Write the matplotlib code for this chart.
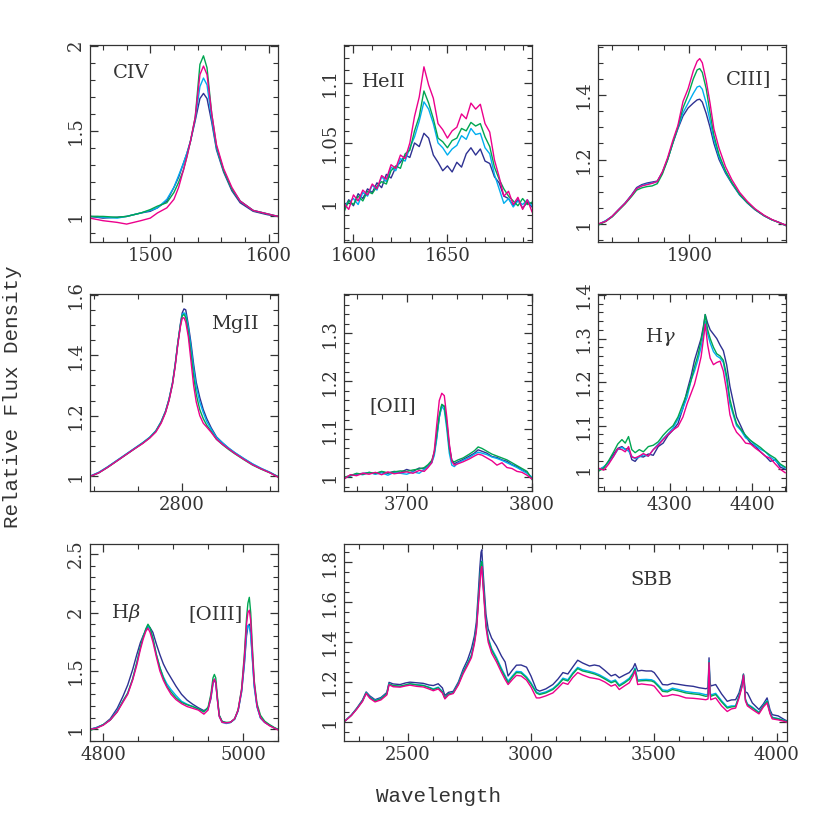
import matplotlib
matplotlib.use("Agg")
import matplotlib.pyplot as plt
from matplotlib.ticker import MultipleLocator, FuncFormatter

plt.rcParams['font.family'] = 'DejaVu Serif'
plt.rcParams['mathtext.fontset'] = 'dejavuserif'

# series colours (order: navy, cyan, green, magenta)
colors = ['#2e3192', '#00aeef', '#00a651', '#ec008c']
ink = '#333333'

# ---------------- CIV ----------------
civ_wave = [1449, 1460, 1472, 1480, 1492, 1500, 1506, 1514, 1520, 1524, 1528, 1531, 1534,
            1538, 1542, 1545, 1548, 1552, 1556, 1562, 1569, 1576, 1587, 1599, 1608]
civ_navy = [1.00, 0.99, 0.995, 1.00, 1.02, 1.03, 1.05, 1.09, 1.17, 1.23, 1.31, 1.37, 1.44,
            1.56, 1.69, 1.72, 1.69, 1.55, 1.39, 1.26, 1.15, 1.08, 1.03, 1.01, 1.00]
civ_cyan = [1.00, 0.995, 0.99, 1.00, 1.02, 1.035, 1.05, 1.10, 1.17, 1.24, 1.31, 1.37, 1.44,
            1.57, 1.76, 1.81, 1.77, 1.57, 1.40, 1.27, 1.16, 1.09, 1.035, 1.015, 1.00]
civ_green = [1.00, 1.00, 0.995, 1.00, 1.02, 1.04, 1.06, 1.08, 1.14, 1.20, 1.27, 1.35, 1.44,
             1.58, 1.89, 1.94, 1.87, 1.60, 1.41, 1.27, 1.16, 1.09, 1.035, 1.015, 1.00]
civ_mag = [0.99, 0.975, 0.965, 0.955, 0.975, 0.99, 1.02, 1.05, 1.10, 1.17, 1.27, 1.35, 1.44,
           1.58, 1.83, 1.88, 1.83, 1.60, 1.42, 1.28, 1.17, 1.09, 1.035, 1.015, 1.00]

# ---------------- HeII ----------------
heii_wave = [1595, 1597.5, 1600, 1602.5, 1605, 1607.5, 1610, 1612.5, 1615, 1617.5, 1620, 1622.5,
             1625, 1627.5, 1630, 1632.5, 1635, 1637.5, 1640, 1642.5, 1645, 1647.5, 1650, 1652.5,
             1655, 1657.5, 1660, 1662.5, 1665, 1667.5, 1670, 1672.5, 1675, 1677.5, 1680, 1682.5,
             1685, 1687.5, 1690, 1692.5, 1695]
heii_navy = [0.995, 1.003, 0.998, 1.008, 1.004, 1.012, 1.009, 1.017, 1.013, 1.024, 1.021, 1.030,
             1.034, 1.040, 1.038, 1.050, 1.047, 1.058, 1.054, 1.040, 1.034, 1.027, 1.031, 1.026,
             1.034, 1.030, 1.041, 1.046, 1.040, 1.045, 1.035, 1.033, 1.022, 1.017, 1.006, 1.004,
             0.998, 1.003, 0.996, 1.001, 0.997]
heii_cyan = [0.998, 1.001, 1.004, 0.999, 1.009, 1.006, 1.015, 1.011, 1.022, 1.018, 1.030, 1.027,
             1.037, 1.035, 1.046, 1.055, 1.068, 1.084, 1.078, 1.066, 1.050, 1.046, 1.040, 1.045,
             1.048, 1.056, 1.053, 1.062, 1.057, 1.058, 1.046, 1.041, 1.024, 1.012, 1.000, 1.004,
             0.997, 1.002, 0.999, 1.003, 0.998]
heii_green = [0.993, 1.002, 0.999, 1.006, 1.002, 1.010, 1.008, 1.014, 1.018, 1.016, 1.027, 1.031,
              1.029, 1.041, 1.044, 1.060, 1.072, 1.093, 1.083, 1.070, 1.054, 1.051, 1.046, 1.052,
              1.054, 1.062, 1.060, 1.067, 1.064, 1.066, 1.055, 1.047, 1.030, 1.020, 1.012, 1.006,
              1.002, 0.998, 1.004, 0.999, 1.001]
heii_mag = [1.000, 0.995, 1.007, 1.002, 1.011, 1.007, 1.016, 1.012, 1.023, 1.020, 1.032, 1.029,
            1.040, 1.037, 1.050, 1.072, 1.088, 1.113, 1.098, 1.087, 1.066, 1.061, 1.054, 1.060,
            1.063, 1.074, 1.070, 1.083, 1.078, 1.082, 1.066, 1.059, 1.036, 1.022, 1.006, 1.010,
            0.999, 1.005, 0.995, 1.003, 0.993]

# ---------------- CIII] ----------------
ciii_wave = [1829, 1835, 1840, 1845, 1850, 1855, 1859, 1863, 1867, 1871, 1875, 1879, 1883, 1887,
             1891, 1895, 1899, 1903, 1906, 1908, 1910, 1913, 1916, 1919, 1923, 1928, 1933, 1939,
             1945, 1951, 1958, 1964, 1970, 1975]
ciii_navy = [0.998, 1.010, 1.024, 1.045, 1.065, 1.090, 1.113, 1.122, 1.127, 1.130, 1.133, 1.160,
             1.200, 1.250, 1.295, 1.335, 1.360, 1.375, 1.385, 1.387, 1.378, 1.343, 1.300, 1.250,
             1.200, 1.158, 1.125, 1.090, 1.065, 1.044, 1.025, 1.013, 1.004, 0.995]
ciii_cyan = [0.998, 1.010, 1.023, 1.044, 1.064, 1.088, 1.110, 1.119, 1.124, 1.127, 1.131, 1.160,
             1.200, 1.250, 1.298, 1.345, 1.375, 1.405, 1.425, 1.428, 1.418, 1.375, 1.320, 1.262,
             1.208, 1.162, 1.127, 1.091, 1.066, 1.045, 1.026, 1.013, 1.004, 0.995]
ciii_green = [0.996, 1.008, 1.022, 1.042, 1.062, 1.085, 1.105, 1.112, 1.116, 1.118, 1.125, 1.155,
              1.198, 1.250, 1.300, 1.360, 1.400, 1.450, 1.478, 1.482, 1.470, 1.420, 1.345, 1.275,
              1.215, 1.165, 1.128, 1.092, 1.066, 1.045, 1.026, 1.013, 1.004, 0.995]
ciii_mag = [1.000, 1.008, 1.024, 1.044, 1.064, 1.088, 1.110, 1.118, 1.122, 1.126, 1.132, 1.162,
            1.205, 1.258, 1.305, 1.380, 1.420, 1.475, 1.505, 1.513, 1.500, 1.445, 1.375, 1.295,
            1.235, 1.178, 1.137, 1.098, 1.070, 1.047, 1.027, 1.014, 1.004, 0.996]

# ---------------- MgII ----------------
mgii_wave = [2695, 2705, 2715, 2725, 2735, 2745, 2755, 2763, 2770, 2776, 2781, 2785, 2789, 2792,
             2795, 2798, 2800, 2802, 2804, 2807, 2810, 2813, 2816, 2820, 2824, 2828, 2833, 2839,
             2846, 2853, 2860, 2870, 2880, 2890, 2900, 2909]
mgii_navy = [1.000, 1.012, 1.030, 1.050, 1.070, 1.090, 1.110, 1.128, 1.150, 1.180, 1.215, 1.255,
             1.310, 1.370, 1.440, 1.505, 1.540, 1.553, 1.550, 1.500, 1.440, 1.370, 1.310, 1.260,
             1.220, 1.190, 1.160, 1.130, 1.110, 1.092, 1.077, 1.058, 1.040, 1.025, 1.012, 0.998]
mgii_cyan = [1.000, 1.013, 1.031, 1.051, 1.071, 1.091, 1.111, 1.129, 1.150, 1.180, 1.214, 1.254,
             1.308, 1.368, 1.440, 1.500, 1.535, 1.540, 1.535, 1.490, 1.425, 1.355, 1.295, 1.245,
             1.210, 1.180, 1.155, 1.128, 1.110, 1.093, 1.078, 1.059, 1.041, 1.026, 1.013, 0.999]
mgii_green = [0.998, 1.011, 1.029, 1.049, 1.069, 1.089, 1.109, 1.127, 1.148, 1.178, 1.212, 1.252,
              1.306, 1.366, 1.440, 1.500, 1.530, 1.535, 1.525, 1.475, 1.405, 1.330, 1.270, 1.220,
              1.190, 1.168, 1.148, 1.122, 1.104, 1.088, 1.074, 1.055, 1.037, 1.023, 1.011, 0.998]
mgii_mag = [0.999, 1.011, 1.029, 1.049, 1.069, 1.089, 1.108, 1.126, 1.146, 1.175, 1.210, 1.250,
            1.304, 1.363, 1.435, 1.495, 1.522, 1.524, 1.510, 1.460, 1.380, 1.300, 1.245, 1.200,
            1.175, 1.162, 1.145, 1.122, 1.105, 1.090, 1.075, 1.056, 1.038, 1.024, 1.011, 0.997]

# ---------------- [OII] ----------------
oii_wave = [3650, 3655, 3660, 3665, 3670, 3675, 3680, 3685, 3690, 3695, 3700, 3705, 3710, 3714,
            3717, 3720, 3722, 3724, 3726, 3728, 3730, 3732, 3734, 3736, 3738, 3741, 3745, 3750,
            3754, 3757, 3760, 3764, 3768, 3772, 3776, 3780, 3784, 3788, 3792, 3796, 3800]
oii_navy = [0.997, 1.004, 1.006, 1.008, 1.009, 1.007, 1.011, 1.008, 1.012, 1.010, 1.016, 1.012,
            1.019, 1.017, 1.024, 1.032, 1.050, 1.085, 1.125, 1.150, 1.148, 1.115, 1.065, 1.035,
            1.028, 1.032, 1.037, 1.044, 1.050, 1.057, 1.054, 1.050, 1.043, 1.041, 1.036, 1.033,
            1.026, 1.022, 1.015, 1.010, 0.998]
oii_cyan = [0.999, 1.002, 1.007, 1.005, 1.010, 1.006, 1.009, 1.004, 1.010, 1.008, 1.006, 1.011,
            1.008, 1.016, 1.022, 1.030, 1.045, 1.080, 1.125, 1.148, 1.140, 1.100, 1.050, 1.025,
            1.022, 1.030, 1.035, 1.041, 1.048, 1.052, 1.050, 1.047, 1.042, 1.039, 1.035, 1.030,
            1.025, 1.020, 1.014, 1.008, 1.000]
oii_green = [1.000, 1.003, 1.008, 1.006, 1.010, 1.008, 1.012, 1.009, 1.011, 1.013, 1.012, 1.015,
             1.017, 1.020, 1.026, 1.035, 1.052, 1.090, 1.130, 1.152, 1.148, 1.110, 1.060, 1.034,
             1.032, 1.036, 1.040, 1.048, 1.055, 1.063, 1.060, 1.054, 1.048, 1.044, 1.040, 1.036,
             1.030, 1.024, 1.018, 1.012, 0.995]
oii_mag = [0.996, 1.005, 1.003, 1.008, 1.006, 1.010, 1.005, 1.011, 1.007, 1.009, 1.011, 1.008,
           1.014, 1.012, 1.020, 1.030, 1.055, 1.110, 1.160, 1.175, 1.170, 1.125, 1.070, 1.033,
           1.025, 1.028, 1.032, 1.038, 1.044, 1.048, 1.046, 1.040, 1.034, 1.025, 1.030, 1.020,
           1.018, 1.012, 1.010, 1.004, 0.996]

# ---------------- Hgamma ----------------
hg_wave = [4214, 4220, 4226, 4232, 4237, 4242, 4246, 4250, 4254, 4258, 4263, 4268, 4274, 4280,
           4286, 4292, 4298, 4304, 4310, 4316, 4321, 4326, 4330, 4334, 4338, 4341, 4343, 4346,
           4349, 4353, 4357, 4361, 4365, 4369, 4373, 4377, 4381, 4386, 4392, 4398, 4404, 4410,
           4416, 4422, 4428, 4434, 4440]
hg_navy = [1.000, 1.004, 1.018, 1.035, 1.048, 1.052, 1.046, 1.048, 1.022, 1.018, 1.030, 1.028,
           1.035, 1.032, 1.052, 1.060, 1.078, 1.090, 1.105, 1.140, 1.180, 1.215, 1.250, 1.275,
           1.300, 1.330, 1.355, 1.335, 1.320, 1.310, 1.300, 1.285, 1.272, 1.240, 1.190, 1.155,
           1.120, 1.100, 1.075, 1.060, 1.052, 1.040, 1.030, 1.018, 1.022, 1.005, 1.000]
hg_cyan = [0.998, 1.006, 1.015, 1.030, 1.045, 1.050, 1.045, 1.042, 1.030, 1.024, 1.028, 1.033,
           1.030, 1.045, 1.058, 1.070, 1.082, 1.095, 1.115, 1.140, 1.165, 1.205, 1.225, 1.250,
           1.280, 1.310, 1.340, 1.310, 1.290, 1.270, 1.260, 1.255, 1.245, 1.205, 1.150, 1.125,
           1.100, 1.090, 1.072, 1.066, 1.054, 1.046, 1.040, 1.028, 1.020, 1.010, 1.003]
hg_green = [0.996, 1.003, 1.020, 1.040, 1.058, 1.068, 1.060, 1.075, 1.045, 1.038, 1.045, 1.040,
            1.052, 1.055, 1.063, 1.078, 1.090, 1.100, 1.120, 1.150, 1.175, 1.205, 1.235, 1.260,
            1.295, 1.325, 1.355, 1.320, 1.300, 1.280, 1.265, 1.260, 1.250, 1.215, 1.160, 1.130,
            1.105, 1.092, 1.078, 1.066, 1.058, 1.050, 1.040, 1.032, 1.025, 1.012, 1.005]
hg_mag = [1.002, 0.998, 1.012, 1.030, 1.047, 1.045, 1.040, 1.052, 1.028, 1.026, 1.030, 1.036,
          1.030, 1.045, 1.055, 1.068, 1.080, 1.090, 1.098, 1.120, 1.150, 1.175, 1.195, 1.225,
          1.258, 1.300, 1.333, 1.285, 1.255, 1.240, 1.245, 1.248, 1.225, 1.180, 1.125, 1.100,
          1.085, 1.075, 1.060, 1.058, 1.048, 1.040, 1.030, 1.025, 1.012, 1.000, 0.992]

# ---------------- Hbeta + [OIII] ----------------
hb_wave = [4781, 4790, 4800, 4810, 4820, 4828, 4835, 4842, 4848, 4853, 4857, 4861, 4864, 4867,
           4871, 4876, 4881, 4886, 4891, 4897, 4904, 4912, 4920, 4928, 4936, 4944, 4950, 4954,
           4957, 4959, 4961, 4963, 4966, 4970, 4976, 4982, 4988, 4993, 4998, 5002, 5005, 5007,
           5009, 5011, 5013, 5016, 5020, 5025, 5031, 5038, 5045, 5050]
hb_navy = [1.00, 1.015, 1.040, 1.090, 1.180, 1.280, 1.380, 1.510, 1.640, 1.740, 1.800, 1.850,
           1.880, 1.870, 1.830, 1.730, 1.640, 1.560, 1.500, 1.440, 1.370, 1.300, 1.250, 1.215,
           1.185, 1.160, 1.180, 1.260, 1.390, 1.420, 1.400, 1.280, 1.120, 1.070, 1.055, 1.060,
           1.090, 1.160, 1.320, 1.560, 1.800, 1.880, 1.900, 1.830, 1.650, 1.380, 1.200, 1.100,
           1.060, 1.035, 1.010, 1.000]
hb_cyan = [1.00, 1.015, 1.040, 1.080, 1.160, 1.240, 1.310, 1.430, 1.570, 1.700, 1.790, 1.860,
           1.890, 1.860, 1.780, 1.640, 1.530, 1.450, 1.390, 1.340, 1.290, 1.240, 1.215, 1.195,
           1.175, 1.150, 1.180, 1.280, 1.400, 1.430, 1.400, 1.270, 1.110, 1.060, 1.050, 1.058,
           1.085, 1.160, 1.330, 1.580, 1.830, 1.890, 1.880, 1.800, 1.630, 1.360, 1.190, 1.095,
           1.060, 1.035, 1.012, 1.000]
hb_green = [0.99, 1.010, 1.040, 1.080, 1.150, 1.240, 1.310, 1.430, 1.570, 1.700, 1.790, 1.860,
            1.900, 1.870, 1.780, 1.640, 1.530, 1.440, 1.370, 1.320, 1.270, 1.230, 1.210, 1.195,
            1.175, 1.150, 1.190, 1.300, 1.440, 1.470, 1.440, 1.300, 1.120, 1.065, 1.060, 1.060,
            1.090, 1.170, 1.350, 1.650, 1.950, 2.080, 2.130, 2.000, 1.750, 1.420, 1.220, 1.120,
            1.070, 1.040, 1.015, 1.000]
hb_mag = [1.00, 1.010, 1.035, 1.080, 1.150, 1.230, 1.300, 1.420, 1.550, 1.680, 1.770, 1.840,
          1.865, 1.830, 1.750, 1.620, 1.500, 1.420, 1.360, 1.300, 1.255, 1.220, 1.195, 1.180,
          1.165, 1.130, 1.165, 1.280, 1.400, 1.430, 1.400, 1.270, 1.110, 1.060, 1.055, 1.060,
          1.090, 1.165, 1.340, 1.620, 1.900, 2.000, 2.020, 1.930, 1.700, 1.400, 1.200, 1.100,
          1.060, 1.030, 1.010, 0.995]

# ---------------- SBB ----------------
sbb_wave = [2240, 2270, 2292, 2315, 2330, 2345, 2366, 2390, 2414, 2423, 2440, 2468, 2490, 2508,
            2535, 2562, 2585, 2603, 2623, 2640, 2650, 2665, 2684, 2705, 2724, 2742, 2758, 2770,
            2778, 2786, 2792, 2797, 2800, 2804, 2809, 2817, 2826, 2840, 2860, 2880, 2895, 2907,
            2925, 2941, 2960, 2982, 3000, 3022, 3035, 3060, 3089, 3110, 3130, 3150, 3170, 3190,
            3210, 3238, 3258, 3278, 3300, 3326, 3343, 3359, 3380, 3400, 3415, 3423, 3434, 3450,
            3468, 3490, 3501, 3520, 3535, 3555, 3575, 3600, 3630, 3660, 3684, 3711, 3720, 3724,
            3728, 3731, 3751, 3775, 3798, 3815, 3832, 3846, 3858, 3864, 3872, 3880, 3900, 3927,
            3945, 3960, 3972, 3981, 4005, 4032, 4041]
sbb_navy = [1.000, 1.035, 1.069, 1.110, 1.150, 1.130, 1.111, 1.122, 1.147, 1.198, 1.190, 1.187,
            1.195, 1.199, 1.196, 1.193, 1.185, 1.182, 1.191, 1.170, 1.132, 1.148, 1.153, 1.200,
            1.263, 1.310, 1.367, 1.430, 1.500, 1.650, 1.770, 1.850, 1.862, 1.780, 1.684, 1.540,
            1.466, 1.420, 1.380, 1.330, 1.300, 1.230, 1.260, 1.284, 1.285, 1.274, 1.230, 1.162,
            1.154, 1.165, 1.187, 1.215, 1.247, 1.240, 1.275, 1.309, 1.295, 1.280, 1.285, 1.280,
            1.258, 1.230, 1.238, 1.221, 1.235, 1.247, 1.270, 1.292, 1.255, 1.258, 1.255, 1.255,
            1.247, 1.215, 1.187, 1.185, 1.193, 1.188, 1.182, 1.178, 1.171, 1.166, 1.170, 1.321,
            1.200, 1.180, 1.187, 1.140, 1.103, 1.110, 1.111, 1.145, 1.200, 1.240, 1.150, 1.145,
            1.095, 1.062, 1.090, 1.120, 1.060, 1.036, 1.030, 1.010, 1.005]
sbb_cyan = [1.000, 1.034, 1.067, 1.106, 1.147, 1.124, 1.107, 1.117, 1.142, 1.192, 1.180, 1.178,
            1.184, 1.190, 1.186, 1.183, 1.174, 1.165, 1.174, 1.152, 1.118, 1.140, 1.147, 1.192,
            1.250, 1.294, 1.336, 1.405, 1.472, 1.606, 1.708, 1.795, 1.806, 1.726, 1.640, 1.497,
            1.423, 1.368, 1.322, 1.268, 1.232, 1.204, 1.231, 1.253, 1.251, 1.226, 1.196, 1.150,
            1.142, 1.150, 1.167, 1.190, 1.219, 1.211, 1.246, 1.273, 1.261, 1.253, 1.246, 1.236,
            1.221, 1.202, 1.210, 1.185, 1.201, 1.219, 1.246, 1.270, 1.210, 1.212, 1.213, 1.211,
            1.205, 1.181, 1.160, 1.157, 1.169, 1.162, 1.152, 1.147, 1.144, 1.136, 1.138, 1.305,
            1.156, 1.135, 1.143, 1.106, 1.075, 1.080, 1.080, 1.130, 1.183, 1.237, 1.115, 1.090,
            1.074, 1.048, 1.083, 1.107, 1.048, 1.023, 1.017, 1.006, 1.001]
sbb_green = [1.000, 1.033, 1.066, 1.105, 1.145, 1.122, 1.105, 1.115, 1.140, 1.190, 1.182, 1.179,
             1.185, 1.191, 1.185, 1.182, 1.172, 1.162, 1.171, 1.150, 1.120, 1.140, 1.145, 1.190,
             1.247, 1.290, 1.331, 1.400, 1.466, 1.600, 1.702, 1.790, 1.803, 1.720, 1.634, 1.490,
             1.415, 1.360, 1.314, 1.260, 1.225, 1.196, 1.225, 1.247, 1.245, 1.220, 1.190, 1.145,
             1.137, 1.145, 1.162, 1.185, 1.213, 1.205, 1.240, 1.267, 1.255, 1.247, 1.240, 1.230,
             1.215, 1.196, 1.204, 1.179, 1.195, 1.213, 1.240, 1.264, 1.204, 1.206, 1.207, 1.205,
             1.199, 1.175, 1.153, 1.150, 1.162, 1.155, 1.145, 1.140, 1.137, 1.128, 1.130, 1.300,
             1.150, 1.128, 1.137, 1.100, 1.069, 1.075, 1.077, 1.128, 1.180, 1.236, 1.110, 1.086,
             1.070, 1.045, 1.080, 1.103, 1.045, 1.020, 1.015, 1.005, 1.000]
sbb_mag = [1.000, 1.032, 1.064, 1.102, 1.142, 1.118, 1.100, 1.110, 1.135, 1.186, 1.176, 1.174,
           1.180, 1.184, 1.178, 1.175, 1.165, 1.156, 1.165, 1.144, 1.115, 1.135, 1.142, 1.185,
           1.240, 1.282, 1.322, 1.390, 1.455, 1.585, 1.680, 1.765, 1.778, 1.700, 1.615, 1.475,
           1.400, 1.345, 1.300, 1.248, 1.212, 1.187, 1.213, 1.233, 1.230, 1.209, 1.175, 1.120,
           1.120, 1.130, 1.145, 1.170, 1.196, 1.188, 1.222, 1.247, 1.235, 1.222, 1.218, 1.213,
           1.200, 1.179, 1.187, 1.162, 1.180, 1.196, 1.230, 1.255, 1.187, 1.190, 1.187, 1.184,
           1.179, 1.150, 1.128, 1.130, 1.137, 1.132, 1.120, 1.118, 1.115, 1.111, 1.115, 1.297,
           1.140, 1.111, 1.120, 1.080, 1.052, 1.065, 1.069, 1.120, 1.175, 1.234, 1.105, 1.080,
           1.062, 1.040, 1.075, 1.095, 1.040, 1.015, 1.010, 1.002, 0.998]

fig = plt.figure(figsize=(8.3, 8.3), dpi=100)

w, h = 0.2265, 0.2373
cx = [0.1084, 0.4145, 0.7205]
ry = [0.7084, 0.4084, 0.1072]

# rect, data, xlim, ylim, x major/minor, y major/minor, label, label position
panels = [
    ([cx[0], ry[0], w, h], civ_wave, [civ_navy, civ_cyan, civ_green, civ_mag],
     (1449, 1608), (0.85, 2.003), 100, 20, 0.5, 0.1, ['CIV'], [(0.22, 0.86)]),
    ([cx[1], ry[0], w, h], heii_wave, [heii_navy, heii_cyan, heii_green, heii_mag],
     (1595, 1695), (0.968, 1.131), 50, 10, 0.05, 0.01, ['HeII'], [(0.21, 0.81)]),
    ([cx[2], ry[0], w, h], ciii_wave, [ciii_navy, ciii_cyan, ciii_green, ciii_mag],
     (1829, 1975), (0.944, 1.555), 100, 20, 0.2, 0.05, ['CIII]'], [(0.80, 0.83)]),
    ([cx[0], ry[1], w, h], mgii_wave, [mgii_navy, mgii_cyan, mgii_green, mgii_mag],
     (2695, 2909), (0.951, 1.602), 200, 50, 0.2, 0.05, ['MgII'], [(0.77, 0.85)]),
    ([cx[1], ry[1], w, h], oii_wave, [oii_navy, oii_cyan, oii_green, oii_mag],
     (3650, 3800), (0.971, 1.382), 100, 20, 0.1, 0.02, ['[OII]'], [(0.26, 0.43)]),
    ([cx[2], ry[1], w, h], hg_wave, [hg_navy, hg_cyan, hg_green, hg_mag],
     (4213, 4441), (0.95, 1.402), 100, 20, 0.1, 0.02, [r'H$\gamma$'], [(0.33, 0.78)]),
    ([cx[0], ry[2], w, h], hb_wave, [hb_navy, hb_cyan, hb_green, hb_mag],
     (4781, 5050), (0.9, 2.586), 200, 50, 0.5, 0.1, [r'H$\beta$', '[OIII]'],
     [(0.19, 0.65), (0.67, 0.645)]),
    ([cx[1], ry[2], 0.5337, h], sbb_wave, [sbb_navy, sbb_cyan, sbb_green, sbb_mag],
     (2240, 4041), (0.904, 1.891), 500, 100, 0.2, 0.05, ['SBB'], [(0.693, 0.816)]),
]

fmt = FuncFormatter(lambda v, p: '%g' % round(v, 4))

for rect, wave, series, xl, yl, xmaj, xmin, ymaj, ymin, labels, lpos in panels:
    ax = fig.add_axes(rect)
    for ys, c in zip(series, colors):
        ax.plot(wave, ys, color=c, lw=1.0)
    ax.set_xlim(*xl)
    ax.set_ylim(*yl)
    ax.xaxis.set_major_locator(MultipleLocator(xmaj))
    ax.xaxis.set_minor_locator(MultipleLocator(xmin))
    ax.yaxis.set_major_locator(MultipleLocator(ymaj))
    ax.yaxis.set_minor_locator(MultipleLocator(ymin))
    ax.xaxis.set_major_formatter(fmt)
    ax.yaxis.set_major_formatter(fmt)
    ax.tick_params(which='both', direction='in', top=True, right=True, colors=ink,
                   labelsize=13, labelcolor=ink)
    ax.tick_params(which='major', length=6, width=0.9)
    ax.tick_params(which='minor', length=3.5, width=0.8)
    ax.tick_params(axis='y', labelrotation=90, pad=4)
    for lab in ax.get_yticklabels():
        lab.set_va('center')
    for s in ax.spines.values():
        s.set_color(ink)
        s.set_linewidth(0.9)
    for t, (px, py) in zip(labels, lpos):
        ax.text(px, py, t, transform=ax.transAxes, ha='center', va='center',
                fontsize=14, color=ink)

fig.text(0.015, 0.522, 'Relative Flux Density', rotation=90, ha='center', va='center',
         family='Liberation Mono', fontsize=15, color=ink)
fig.text(0.528, 0.040, 'Wavelength', ha='center', va='center',
         family='Liberation Mono', fontsize=15, color=ink)

fig.savefig('out.png', dpi=100)
